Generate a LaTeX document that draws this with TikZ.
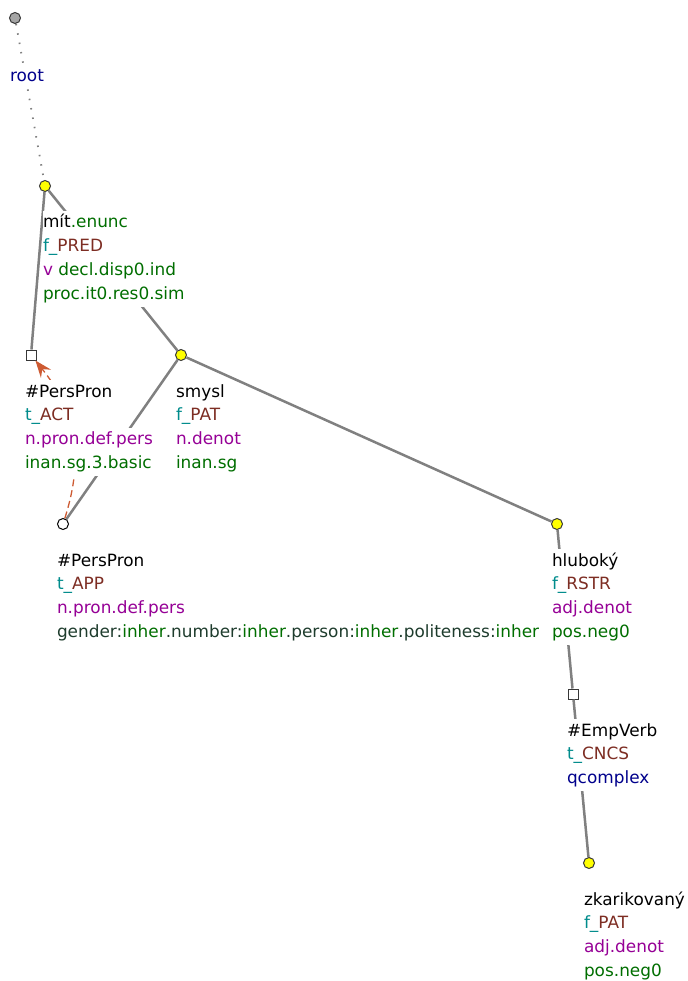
\documentclass[tikz,border=0pt]{standalone}
\usepackage{fontspec}
\setmainfont{DejaVu Sans}
\usetikzlibrary{positioning,arrows.meta}
\definecolor{edgegray}{RGB}{128,128,128}
\definecolor{nodeline}{RGB}{55,55,55}
\definecolor{nodeyellow}{RGB}{255,255,0}
\definecolor{rootgray}{RGB}{165,165,165}
\definecolor{functeal}{RGB}{0,140,140}
\definecolor{funcbrown}{RGB}{125,45,35}
\definecolor{semposlila}{RGB}{150,0,150}
\definecolor{grammgreen}{RGB}{0,110,0}
\definecolor{attrdark}{RGB}{30,60,45}
\definecolor{rootblue}{RGB}{0,0,140}
\definecolor{corefred}{RGB}{205,90,50}

\begin{document}
\begin{tikzpicture}[x=1pt,y=-1pt,
font={\fontsize{16.9}{20}\selectfont},
tnode/.style={circle,draw=nodeline,fill=nodeyellow,minimum size=11pt,inner sep=0pt,line width=1pt},
rootnode/.style={tnode,fill=rootgray},
hidcirc/.style={tnode,fill=white,draw=black},
hidnode/.style={rectangle,draw=nodeline,fill=white,minimum size=10pt,inner sep=0pt,line width=1pt},
edge/.style={draw=edgegray,line width=2.5pt},
rootedge/.style={draw=edgegray,line width=1.8pt,dash pattern=on 1.5pt off 8pt},
coref/.style={draw=corefred,line width=1.3pt,dash pattern=on 7pt off 4pt,-{Stealth[length=17pt,width=13pt,inset=6pt]}},
row/.style={fill=white,inner xsep=0pt,inner ysep=0pt,outer sep=0pt,text height=16.6pt,text depth=7.2pt},
>=Stealth]
\useasboundingbox (0,0) rectangle (687,981);
% nodes of the tree
\node[rootnode] (root) at (15,18) {};
\node[tnode] (mit) at (45,186) {};
\node[hidnode] (act) at (31,355) {};
\node[tnode] (smysl) at (181,355) {};
\node[hidcirc] (app) at (63,524) {};
\node[tnode] (hluboky) at (557,524) {};
\node[hidnode] (empverb) at (573,694) {};
\node[tnode] (zkar) at (589,863) {};
% edges
\draw[rootedge] (root)--(mit);
\draw[edge] (mit)--(act);
\draw[edge] (mit)--(smysl);
\draw[edge] (smysl)--(app);
\draw[edge] (smysl)--(hluboky);
\draw[edge] (hluboky)--(empverb);
\draw[edge] (empverb)--(zkar);
% coreference
\draw[coref] (app) .. controls (85,455) and (75,410) .. (act);
% labels
\node[row,anchor=base west,text=rootblue] (rootA) at (10,82) {root};

\node[row,anchor=base west] (mitA) at (43,228) {mít\textcolor{grammgreen}{.enunc}};
\node[row,below=0pt of mitA.south west,anchor=north west] (mitB) {\textcolor{functeal}{f\_}\textcolor{funcbrown}{PRED}\hspace*{9pt}};
\node[row,below=0pt of mitB.south west,anchor=north west] (mitC) {\textcolor{semposlila}{v}\ \textcolor{grammgreen}{decl.disp0.ind}};
\node[row,below=0pt of mitC.south west,anchor=north west,text=grammgreen] (mitD) {proc.it0.res0.sim};

\node[row,anchor=base west] (actA) at (25,397) {\#PersPron};
\node[row,below=0pt of actA.south west,anchor=north west] (actB) {\textcolor{functeal}{t\_}\textcolor{funcbrown}{ACT}};
\node[row,below=0pt of actB.south west,anchor=north west,text=semposlila] (actC) {n.pron.def.pers};
\node[row,below=0pt of actC.south west,anchor=north west,text=grammgreen] (actD) {inan.sg.3.basic};

\node[row,anchor=base west] (smyslA) at (176,397) {smysl};
\node[row,below=0pt of smyslA.south west,anchor=north west] (smyslB) {\textcolor{functeal}{f\_}\textcolor{funcbrown}{PAT}};
\node[row,below=0pt of smyslB.south west,anchor=north west,text=semposlila] (smyslC) {n.denot};
\node[row,below=0pt of smyslC.south west,anchor=north west,text=grammgreen] (smyslD) {inan.sg};

\node[row,anchor=base west] (appA) at (57,566) {\#PersPron};
\node[row,below=0pt of appA.south west,anchor=north west] (appB) {\textcolor{functeal}{t\_}\textcolor{funcbrown}{APP}};
\node[row,below=0pt of appB.south west,anchor=north west,text=semposlila] (appC) {n.pron.def.pers};
\node[row,below=0pt of appC.south west,anchor=north west,text=attrdark] (appD) {gender:\textcolor{grammgreen}{inher}.number:\textcolor{grammgreen}{inher}.person:\textcolor{grammgreen}{inher}.politeness:\textcolor{grammgreen}{inher}};

\node[row,anchor=base west] (hlubokyA) at (552,566) {hluboký};
\node[row,below=0pt of hlubokyA.south west,anchor=north west] (hlubokyB) {\textcolor{functeal}{f\_}\textcolor{funcbrown}{RSTR}};
\node[row,below=0pt of hlubokyB.south west,anchor=north west,text=semposlila] (hlubokyC) {adj.denot};
\node[row,below=0pt of hlubokyC.south west,anchor=north west,text=grammgreen] (hlubokyD) {pos.neg0};

\node[row,anchor=base west] (empverbA) at (567,736) {\#EmpVerb};
\node[row,below=0pt of empverbA.south west,anchor=north west] (empverbB) {\textcolor{functeal}{t\_}\textcolor{funcbrown}{CNCS}};
\node[row,below=0pt of empverbB.south west,anchor=north west,text=rootblue] (empverbC) {qcomplex};

\node[row,anchor=base west] (zkarA) at (584,905) {zkarikovaný};
\node[row,below=0pt of zkarA.south west,anchor=north west] (zkarB) {\textcolor{functeal}{f\_}\textcolor{funcbrown}{PAT}};
\node[row,below=0pt of zkarB.south west,anchor=north west,text=semposlila] (zkarC) {adj.denot};
\node[row,below=0pt of zkarC.south west,anchor=north west,text=grammgreen] (zkarD) {pos.neg0};
\end{tikzpicture}
\end{document}
